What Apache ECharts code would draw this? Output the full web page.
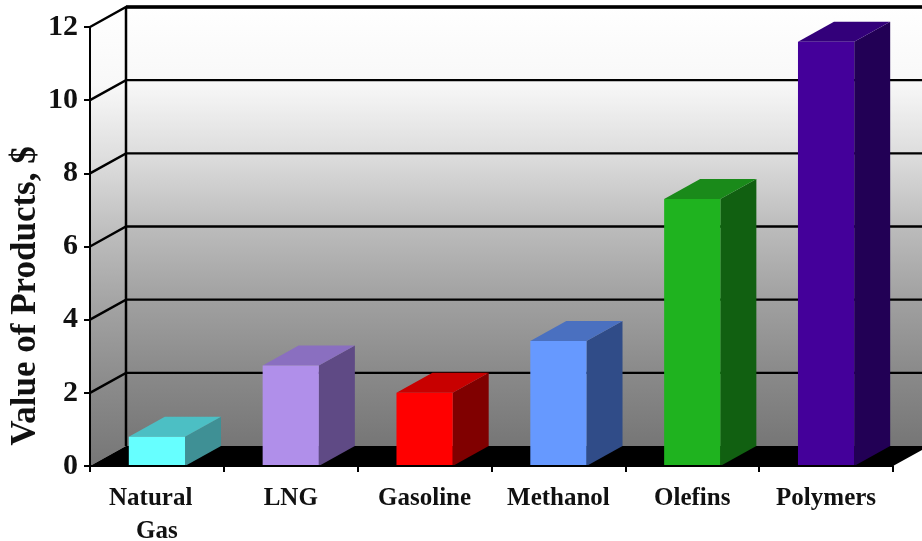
<!DOCTYPE html>
<html>
<head>
<meta charset="utf-8">
<style>html,body{margin:0;padding:0;background:#fff}#chart{width:922px;height:541px}</style>
<script src="https://cdn.jsdelivr.net/npm/echarts@6/dist/echarts.min.js"></script>
</head>
<body>
<div id="chart"></div>
<script>
// Product value per chain step
const categories = ['Natural  \nGas', 'LNG', 'Gasoline', 'Methanol', 'Olefins', 'Polymers'];
const productValues = [0.8, 2.75, 2.0, 3.42, 7.3, 11.6];
const gridValues = [2, 4, 6, 8, 10, 12];
const frontColors = ['#66ffff', '#b08fea', '#ff0000', '#6699ff', '#1fb31f', '#44009a'];
const topColors = ['#4cbfc4', '#8a6fc0', '#c80000', '#4a70c0', '#1a8a1a', '#33007a'];
const sideColors = ['#3f9095', '#5f4a85', '#800000', '#304c88', '#116011', '#220055'];
const axisFont = '"Liberation Serif", serif';

// Pseudo-3D depth of the plot box, in pixels
const DEPTH_X = 36;
const DEPTH_Y = 20;
const BAR_RATIO = 0.42;

const wallFill = () => new echarts.graphic.LinearGradient(0, 0, 0, 1, [
  { offset: 0, color: '#ffffff' },
  { offset: 0.17, color: '#f8f8f8' },
  { offset: 0.34, color: '#dcdcdc' },
  { offset: 0.5, color: '#bcbcbc' },
  { offset: 0.67, color: '#a0a0a0' },
  { offset: 0.83, color: '#8a8a8a' },
  { offset: 1, color: '#767676' }
]);

// Back wall, left wall and floor of the box
function renderWalls(params, api) {
  const c = params.coordSys;
  const top = api.coord([0, 12])[1];
  const base = api.coord([0, 0])[1];
  const left = c.x, right = c.x + c.width;
  const poly = (points, fill) => ({ type: 'polygon', shape: { points }, style: { fill } });
  const line = (x1, y1, x2, y2, w) => ({
    type: 'line', shape: { x1, y1, x2, y2 }, style: { stroke: '#000', lineWidth: w }
  });
  return {
    type: 'group',
    children: [
      poly([[left + DEPTH_X, top - DEPTH_Y], [right + DEPTH_X, top - DEPTH_Y], [right + DEPTH_X, base - DEPTH_Y], [left + DEPTH_X, base - DEPTH_Y]], wallFill()),
      poly([[left, top], [left + DEPTH_X, top - DEPTH_Y], [left + DEPTH_X, base - DEPTH_Y], [left, base]], wallFill()),
      poly([[left, base], [left + DEPTH_X, base - DEPTH_Y], [right + DEPTH_X, base - DEPTH_Y], [right, base]], '#000'),
      line(left + DEPTH_X, top - DEPTH_Y, left + DEPTH_X, base - DEPTH_Y, 2.5),
      line(left + DEPTH_X, top - DEPTH_Y, right + DEPTH_X, top - DEPTH_Y, 3.5)
    ]
  };
}

// One gridline, running up the left wall and across the back wall
function renderGridline(params, api) {
  const c = params.coordSys;
  const y = api.coord([0, api.value(1)])[1];
  return {
    type: 'polyline',
    shape: { points: [[c.x, y], [c.x + DEPTH_X, y - DEPTH_Y], [c.x + c.width + DEPTH_X, y - DEPTH_Y]] },
    style: { stroke: '#000', lineWidth: 2.4, fill: null }
  };
}

// Bar with front, top and side faces
function renderBar(params, api) {
  const i = api.value(0);
  const p = api.coord([i, api.value(1)]);
  const b = api.coord([i, 0]);
  const w = api.size([1, 0])[0] * BAR_RATIO;
  const x0 = p[0] - w / 2, x1 = p[0] + w / 2;
  const poly = (points, fill) => ({ type: 'polygon', shape: { points }, style: { fill } });
  return {
    type: 'group',
    children: [
      poly([[x1, p[1]], [x1 + DEPTH_X, p[1] - DEPTH_Y], [x1 + DEPTH_X, b[1] - DEPTH_Y], [x1, b[1]]], sideColors[i]),
      poly([[x0, p[1]], [x0 + DEPTH_X, p[1] - DEPTH_Y], [x1 + DEPTH_X, p[1] - DEPTH_Y], [x1, p[1]]], topColors[i]),
      poly([[x0, p[1]], [x1, p[1]], [x1, b[1]], [x0, b[1]]], frontColors[i])
    ]
  };
}

const chart = echarts.init(document.getElementById('chart'), null, { renderer: 'canvas' });
chart.setOption({
  animation: false,
  backgroundColor: '#ffffff',
  grid: { left: 90, right: 29, top: 27, bottom: 75, outerBoundsMode: 'none' },
  xAxis: {
    type: 'category',
    data: categories,
    z: 10,
    axisLine: { show: true, onZero: false, lineStyle: { color: '#000', width: 2 } },
    axisTick: { show: true, alignWithLabel: false, length: 6, lineStyle: { color: '#000', width: 2 } },
    axisLabel: {
      interval: 0, margin: 16, color: '#111', lineHeight: 33,
      fontFamily: axisFont, fontWeight: 'bold', fontSize: 25
    }
  },
  yAxis: {
    type: 'value', min: 0, max: 12, interval: 2,
    z: 10,
    splitLine: { show: false },
    axisLine: { show: true, lineStyle: { color: '#000', width: 2 } },
    axisTick: { show: true, length: 6, lineStyle: { color: '#000', width: 2 } },
    axisLabel: {
      margin: 12, color: '#111', padding: [4, 0, 0, 0],
      fontFamily: axisFont, fontWeight: 'bold', fontSize: 30
    }
  },
  graphic: [{
    type: 'text',
    x: 26, y: 296, rotation: Math.PI / 2,
    style: {
      text: 'Value of Products, $', align: 'center', verticalAlign: 'middle',
      fill: '#111', font: 'bold 35px ' + axisFont
    }
  }],
  series: [
    { type: 'custom', z: 1, clip: false, silent: true, renderItem: renderWalls, data: [[0, 12]] },
    { type: 'custom', z: 2, clip: false, silent: true, renderItem: renderGridline, data: gridValues.map(v => [0, v]) },
    { type: 'custom', z: 3, clip: false, renderItem: renderBar, data: productValues.map((v, i) => [i, v]) }
  ]
});
</script>
</body>
</html>
